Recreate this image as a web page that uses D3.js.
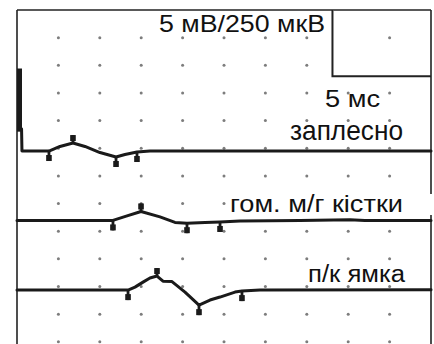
<!DOCTYPE html>
<html>
<head>
<meta charset="utf-8">
<script src="https://cdn.jsdelivr.net/npm/d3@7"></script>
<style>
  html, body { margin: 0; padding: 0; background: #fff; }
  svg { display: block; }
  text { font-family: "Liberation Sans", Arial, sans-serif; fill: #111; }
</style>
</head>
<body>
<svg id="chart" width="434" height="344"></svg>
<script>
// Sweep: 10 divisions x 5 ms; amplitude 250 µV per division, 12 divisions
const sweepMs = [0, 50];
const divisions = [0, 12];
const uvPerDiv = 250;

// Stimulus artefact at the start of the upper trace (µV)
const artefact = [[0.3, 746], [0.3, 175]];

// Trace 1 — заплесно (time ms, amplitude µV)
const trace1 = [[0.55, 200], [0.6, 0], [2.78, 0], [3.86, 0], [5.19, 41], [6.76, 72], [8.21, 41],
  [10.02, -14], [11.96, -54], [13.04, -32], [14.49, -9], [16.06, 0], [50, 0]];
const marks1 = [[3.86, 0, -1], [6.76, 72, 1], [11.96, -54, -1], [14.49, -9, -1]];

// Trace 2 — гом. м/г кістки
const trace2 = [[0, 0], [11.59, 0], [13.29, 41], [14.98, 81], [17.27, 32], [19.08, -18],
  [20.53, -25], [22.71, -18], [24.52, -14], [26.93, -5], [34.18, 0], [40.22, 6], [42.0, 0], [50, 0]];
const marks2 = [[11.59, 0, -1], [14.98, 81, 1], [20.53, -25, -1], [24.52, -14, -1]];

// Trace 3 — п/к ямка
const trace3 = [[0, 0], [13.41, 0], [14.25, 27], [15.22, 72], [16.06, 109], [16.91, 127],
  [17.63, 81], [18.72, 77], [20.29, -18], [21.98, -136], [23.31, -90], [24.52, -63],
  [26.33, -18], [27.17, -9], [29.35, 0], [50, 4]];
const marks3 = [[13.41, 0, -1], [16.91, 127, 1], [21.98, -136, -1], [27.17, -9, -1]];

// Baseline of each trace, in divisions from the top
const baselines = [5.1, 7.61, 10.13];

const labels = ["заплесно", "гом.  м/г  кістки", "п/к ямка"];
const scaleLabels = ["5 мВ/250 мкВ", "5 мс"];

const svg = d3.select("#chart");
const plotLeft = 17, plotRight = 431, plotTop = 10;
const divH = 27.65;

const x = d3.scaleLinear().domain(sweepMs).range([plotLeft, plotRight]);
const yDiv = d3.scaleLinear().domain(divisions).range([plotTop, plotTop + divisions[1] * divH]);
const yOf = (base, uv) => yDiv(base - uv / uvPerDiv);

// Dotted grid
const cols = d3.range(1, 10).map(i => i * 5);
const rows = d3.range(1, 13);
const gGrid = svg.append("g");
rows.forEach(r => cols.forEach(c => {
  gGrid.append("circle").attr("cx", x(c)).attr("cy", yDiv(r)).attr("r", 1.5).attr("fill", "#7d7d7d");
}));

// Frame
const frame = svg.append("g").attr("stroke", "#222").attr("fill", "none");
frame.append("line").attr("x1", plotLeft).attr("x2", plotLeft).attr("y1", plotTop).attr("y2", 344).attr("stroke-width", 1.6);
frame.append("line").attr("x1", plotLeft).attr("x2", plotRight).attr("y1", plotTop).attr("y2", plotTop).attr("stroke-width", 1.6);
frame.append("line").attr("x1", plotRight).attr("x2", plotRight).attr("y1", plotTop).attr("y2", 344).attr("stroke-width", 1.6);

// Calibration box in the upper-right corner
svg.append("path")
  .attr("d", `M${x(38.1)},${plotTop}V${yDiv(2.4)}H${plotRight}`)
  .attr("fill", "#fff").attr("stroke", "#222").attr("stroke-width", 2);

// Label backgrounds
svg.append("rect").attr("x", 227).attr("y", 194).attr("width", 208).attr("height", 21).attr("fill", "#fff");

// Traces
const line = base => d3.line().x(d => x(d[0])).y(d => yOf(base, d[1]));
const gTr = svg.append("g").attr("fill", "none").attr("stroke", "#1a1a1a")
  .attr("stroke-linejoin", "round").attr("stroke-linecap", "round");

gTr.append("path").datum(artefact).attr("d", line(baselines[0])).attr("stroke-width", 5).attr("stroke-linecap", "butt");
[trace1, trace2, trace3].forEach((tr, i) => {
  gTr.append("path").datum(tr).attr("d", line(baselines[i])).attr("stroke-width", 3);
});

// Latency markers
const gMk = svg.append("g").attr("fill", "#1a1a1a").attr("stroke", "#1a1a1a");
[marks1, marks2, marks3].forEach((mk, i) => {
  mk.forEach(([t, v, dir]) => {
    const px = x(t), py = yOf(baselines[i], v);
    const len = dir < 0 ? 10 : 8;
    const tip = py - dir * len;
    gMk.append("line").attr("x1", px).attr("x2", px).attr("y1", py).attr("y2", tip).attr("stroke-width", 2.8);
    gMk.append("rect").attr("x", px - 2.8).attr("y", dir < 0 ? tip - 6 : tip).attr("width", 5.6).attr("height", 6).attr("stroke", "none");
  });
});

// Texts
const addText = (s, x0, yb, size, len) => svg.append("text").text(s)
  .attr("x", x0).attr("y", yb).attr("font-size", size)
  .attr("textLength", len).attr("lengthAdjust", "spacingAndGlyphs");

addText(scaleLabels[0], 159, 32, 24, 166);
addText(scaleLabels[1], 325, 107, 24, 55);
addText(labels[0], 290, 140, 28, 113);
addText(labels[1], 230, 211.5, 23, 173);
addText(labels[2], 308, 282, 23, 97);
</script>
</body>
</html>
